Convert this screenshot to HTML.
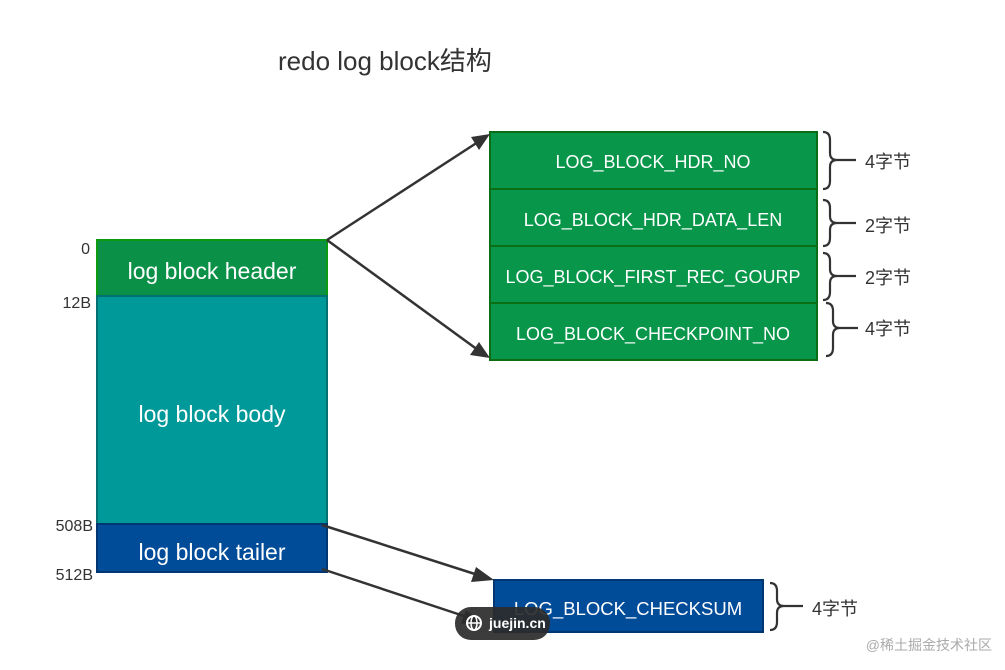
<!DOCTYPE html>
<html><head><meta charset="utf-8">
<style>
html,body{margin:0;padding:0;background:#fff;}
svg{display:block}
text{font-family:"Liberation Sans","Noto Sans CJK SC",sans-serif;}
</style></head>
<body>
<svg width="1005" height="670" viewBox="0 0 1005 670" xmlns="http://www.w3.org/2000/svg">
<text x="278" y="70" font-size="26" fill="#333">redo log block结构</text>

<rect x="97" y="240" width="230" height="56" fill="#0a9147" stroke="#0b9a10" stroke-width="2"/>
<rect x="97" y="296" width="230" height="228" fill="#009999" stroke="#007070" stroke-width="2"/>
<rect x="97" y="524" width="230" height="48" fill="#004c99" stroke="#003672" stroke-width="2"/>
<text x="212" y="279" font-size="23" fill="#fff" text-anchor="middle">log block header</text>
<text x="212" y="422" font-size="23" fill="#fff" text-anchor="middle">log block body</text>
<text x="212" y="560" font-size="23" fill="#fff" text-anchor="middle">log block tailer</text>

<g font-size="16" fill="#333" text-anchor="end">
<text x="90" y="254">0</text>
<text x="91" y="308">12B</text>
<text x="93" y="531">508B</text>
<text x="93" y="580">512B</text>
</g>

<g fill="#07964a" stroke="#0c6e14" stroke-width="2">
<rect x="490" y="132" width="327" height="57"/>
<rect x="490" y="189" width="327" height="57"/>
<rect x="490" y="246" width="327" height="57"/>
<rect x="490" y="303" width="327" height="57"/>
</g>
<g font-size="18" fill="#fff" text-anchor="middle">
<text x="653" y="168">LOG_BLOCK_HDR_NO</text>
<text x="653" y="226">LOG_BLOCK_HDR_DATA_LEN</text>
<text x="653" y="283">LOG_BLOCK_FIRST_REC_GOURP</text>
<text x="653" y="340">LOG_BLOCK_CHECKPOINT_NO</text>
</g>

<rect x="494" y="580" width="269" height="52" fill="#004c99" stroke="#003672" stroke-width="2"/>
<text x="628" y="615" font-size="18.5" fill="#fff" text-anchor="middle">LOG_BLOCK_CHECKSUM</text>

<g fill="none" stroke="#333" stroke-width="2.2">
<path d="M823 132 Q830 132 830 140 L830 153 Q830 160 837 160 L856 160 M837 160 Q830 160 830 167 L830 181 Q830 189 823 189"/>
<path d="M823 200 Q830 200 830 208 L830 216 Q830 223 837 223 L856 223 M837 223 Q830 223 830 230 L830 238 Q830 246 823 246"/>
<path d="M823 253 Q830 253 830 261 L830 269 Q830 276 837 276 L856 276 M837 276 Q830 276 830 283 L830 292 Q830 300 823 300"/>
<path d="M826 303 Q833 303 833 311 L833 321 Q833 328 840 328 L858 328 M840 328 Q833 328 833 335 L833 348 Q833 356 826 356"/>
<path d="M770 583 Q777 583 777 591 L777 599 Q777 606 784 606 L803 606 M784 606 Q777 606 777 613 L777 622 Q777 630 770 630"/>
</g>
<g font-size="18" fill="#333">
<text x="865" y="168">4字节</text>
<text x="865" y="232">2字节</text>
<text x="865" y="284">2字节</text>
<text x="865" y="335">4字节</text>
<text x="812" y="615">4字节</text>
</g>

<g stroke="#333" stroke-width="2.5" fill="none">
<line x1="327" y1="240" x2="478" y2="142"/>
<line x1="327" y1="240" x2="478" y2="350"/>
<line x1="322" y1="525" x2="478" y2="575"/>
<line x1="322" y1="569" x2="470" y2="618"/>
</g>
<g fill="#333">
<polygon points="490,134 471,137 479,150"/>
<polygon points="490,358 479,342 470,355"/>
<polygon points="494,580 476,567 471,582"/>
<polygon points="482,622 466,610 461,624"/>
</g>

<rect x="455" y="607" width="95" height="33" rx="16" fill="#2b2b2b" opacity="0.92"/>
<circle cx="474" cy="623" r="7" fill="none" stroke="#fff" stroke-width="2"/>
<line x1="467" y1="623" x2="481" y2="623" stroke="#fff" stroke-width="1.5"/>
<ellipse cx="474" cy="623" rx="3" ry="7" fill="none" stroke="#fff" stroke-width="1.5"/>
<text x="489" y="628" font-size="14" font-weight="bold" fill="#fff">juejin.cn</text>

<text x="992" y="650" font-size="14" fill="#aaa" text-anchor="end">@稀土掘金技术社区</text>
</svg>
</body></html>
